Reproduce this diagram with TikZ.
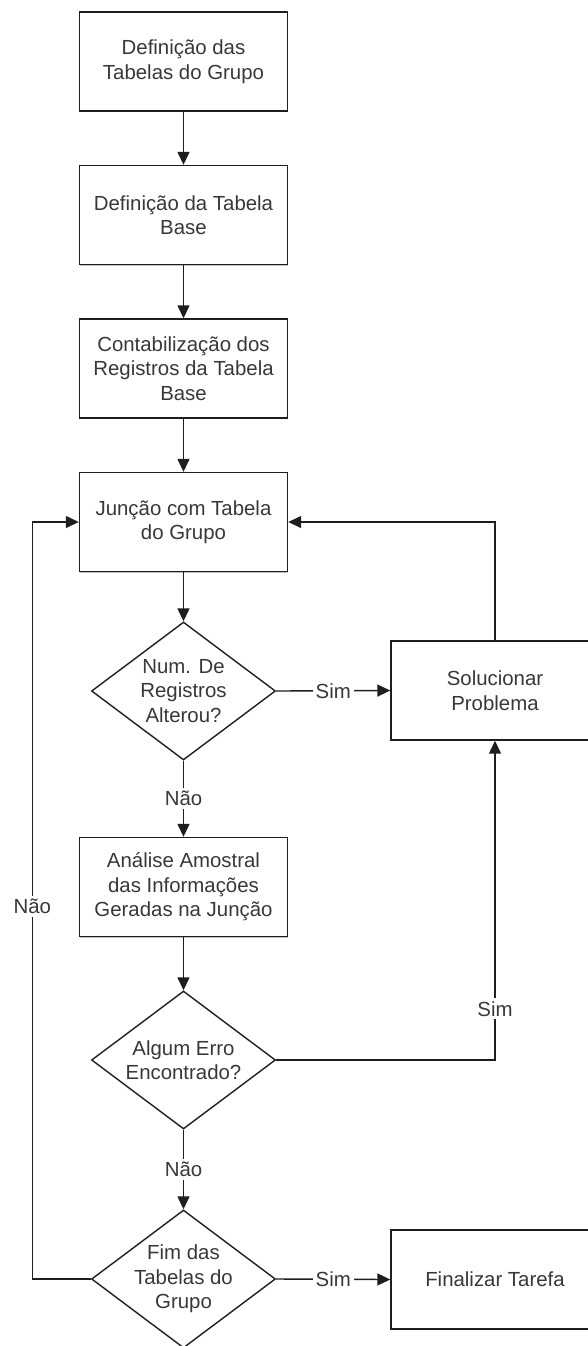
\documentclass[tikz,border=0pt]{standalone}
\usepackage{fontspec}
\setmainfont{Liberation Sans}
\usetikzlibrary{shapes.geometric, arrows.meta, shadows}
\definecolor{fcline}{HTML}{1E1E1E}
\definecolor{fctext}{HTML}{383838}
\tikzset{
  fcbox/.style={draw=fcline, line width=0.7pt, fill=white, minimum width=104pt, minimum height=49.5pt,
    inner sep=2pt, align=center, text=fctext,
    drop shadow={shadow xshift=0.4pt, shadow yshift=-0.5pt, opacity=0.5, fill=gray}},
  fcdec/.style={diamond, draw=fcline, line width=0.7pt, fill=white, minimum width=92pt, minimum height=69pt, inner sep=0pt},
  fclabel/.style={fill=white, text=fctext, inner sep=1.5pt},
  fcarrow/.style={draw=fcline, line width=0.7pt, -{Triangle[length=6.5pt, width=6pt]}},
}

\begin{document}
\begin{tikzpicture}[x=0.5pt, y=-0.5pt, font=\fontsize{10.2}{12.25}\selectfont]
  \useasboundingbox (0,0) rectangle (588,1346);
  \def\fcX{183.5}\def\fcR{495}
  % coluna principal
  \node[fcbox] (defgrupo) at (\fcX,61.5) {Definição das\\Tabelas do Grupo};
  \node[fcbox] (defbase) at (\fcX,215) {Definição da Tabela\\Base};
  \node[fcbox] (contab) at (\fcX,368.5) {Contabilização dos\\Registros da Tabela\\Base};
  \node[fcbox] (juncao) at (\fcX,522) {Junção com Tabela\\do Grupo};
  \node[fcdec, label={[align=center, text=fctext]center:Num. De\\Registros\\Alterou?}] (numreg) at (\fcX,691) {};
  \node[fcbox] (analise) at (\fcX,887) {Análise Amostral\\das Informações\\Geradas na Junção};
  \node[fcdec, label={[align=center, text=fctext]center:Algum Erro\\Encontrado?}] (erro) at (\fcX,1060) {};
  \node[fcdec, label={[align=center, text=fctext]center:Fim das\\Tabelas do\\Grupo}] (fim) at (\fcX,1279) {};
  % coluna direita
  \node[fcbox] (solucao) at (\fcR,690.5) {Solucionar\\Problema};
  \node[fcbox] (finalizar) at (\fcR,1279.5) {Finalizar Tarefa};
  % conectores
  \draw[fcarrow] (defgrupo.south) -- (defbase.north);
  \draw[fcarrow] (defbase.south) -- (contab.north);
  \draw[fcarrow] (contab.south) -- (juncao.north);
  \draw[fcarrow] (juncao.south) -- (numreg.north);
  \draw[fcarrow] (numreg.east) -- node[fclabel] {Sim} (solucao.west);
  \draw[fcarrow] (numreg.south) -- node[fclabel] {Não} (analise.north);
  \draw[fcarrow] (analise.south) -- (erro.north);
  \draw[fcarrow] (erro.east) -| node[fclabel, pos=0.58] {Sim} (solucao.south);
  \draw[fcarrow] (erro.south) -- node[fclabel] {Não} (fim.north);
  \draw[fcarrow] (fim.east) -- node[fclabel] {Sim} (finalizar.west);
  \draw[fcarrow] (solucao.north) |- (juncao.east);
  \draw[fcarrow] (fim.west) -- ++(-58.5,0) |- node[fclabel, pos=0.246] {Não} (juncao.west);
\end{tikzpicture}
\end{document}
